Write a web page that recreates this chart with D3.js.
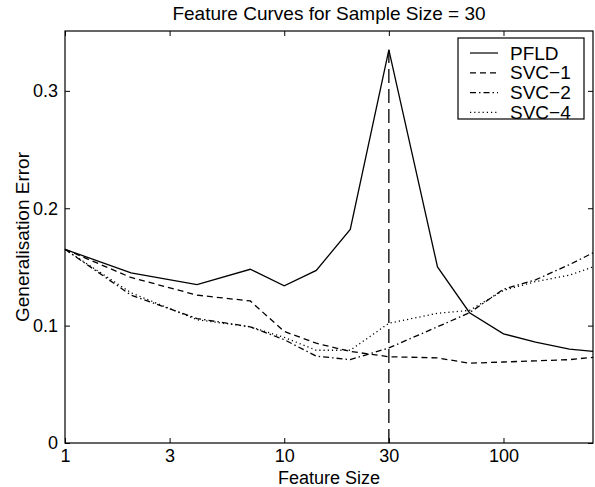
<!DOCTYPE html>
<html>
<head>
<meta charset="utf-8">
<script src="https://cdn.jsdelivr.net/npm/d3@7"></script>
<style>
  body { margin: 0; background: #fff; }
  svg { font-family: "Liberation Sans", Arial, sans-serif; }
</style>
</head>
<body>
<div id="chart"></div>
<script>
const width = 595, height = 487;
const margin = {top: 31, right: 2, bottom: 44, left: 65};

// feature sizes (x) and error values
const featureSize = [1, 2, 4, 7, 10, 14, 20, 30, 50, 70, 100, 140, 200, 256];
const pfld = [0.165, 0.145, 0.135, 0.148, 0.134, 0.147, 0.182, 0.335, 0.150, 0.111, 0.093, 0.086, 0.080, 0.078];
const svc1 = [0.165, 0.141, 0.126, 0.121, 0.095, 0.085, 0.078, 0.0735, 0.0725, 0.068, 0.069, 0.070, 0.071, 0.073];
const svc2 = [0.165, 0.126, 0.106, 0.099, 0.088, 0.074, 0.071, 0.081, 0.099, 0.111, 0.131, 0.139, 0.152, 0.162];
const svc4 = [0.165, 0.128, 0.105, 0.099, 0.090, 0.079, 0.079, 0.102, 0.1105, 0.113, 0.130, 0.1375, 0.143, 0.150];
const seriesNames = ["PFLD", "SVC\u22121", "SVC\u22122", "SVC\u22124"];
const xTicks = [1, 3, 10, 30, 100];
const yTicks = [0, 0.1, 0.2, 0.3];
const sampleSize = 30;

const dashes = [null, "6,4", "6,3,1.5,3", "1.2,3"];
const seriesValues = [pfld, svc1, svc2, svc4];

const svg = d3.select("#chart").append("svg")
  .attr("width", width)
  .attr("height", height);

const x = d3.scaleLog()
  .domain([1, 256])
  .range([margin.left, width - margin.right]);

const y = d3.scaleLinear()
  .domain([0, 0.351])
  .range([height - margin.bottom, margin.top]);

const fmt = d => d === 0 ? "0" : d3.format(".1f")(d);

// axes with inward ticks, box style
svg.append("g")
  .attr("transform", `translate(0,${height - margin.bottom})`)
  .call(d3.axisBottom(x).tickValues(xTicks).tickFormat(d3.format("d")).tickSizeInner(-5).tickSizeOuter(0).tickPadding(6))
  .call(g => g.select(".domain").remove())
  .selectAll("text").attr("font-size", "18px").attr("fill", "#000");

svg.append("g")
  .attr("transform", `translate(0,${margin.top})`)
  .call(d3.axisTop(x).tickValues(xTicks).tickFormat("").tickSizeInner(-5).tickSizeOuter(0))
  .call(g => g.select(".domain").remove());

svg.append("g")
  .attr("transform", `translate(${margin.left},0)`)
  .call(d3.axisLeft(y).tickValues(yTicks).tickFormat(fmt).tickSizeInner(-5).tickSizeOuter(0).tickPadding(7))
  .call(g => g.select(".domain").remove())
  .selectAll("text").attr("font-size", "18px").attr("fill", "#000");

svg.append("g")
  .attr("transform", `translate(${width - margin.right},0)`)
  .call(d3.axisRight(y).tickValues(yTicks).tickFormat("").tickSizeInner(-5).tickSizeOuter(0))
  .call(g => g.select(".domain").remove());

svg.selectAll(".tick line").attr("stroke", "#000");

svg.append("rect")
  .attr("x", margin.left)
  .attr("y", margin.top)
  .attr("width", width - margin.left - margin.right)
  .attr("height", height - margin.top - margin.bottom)
  .attr("fill", "none")
  .attr("stroke", "#000")
  .attr("stroke-width", 1.2);

// vertical marker at sample size
svg.append("line")
  .attr("x1", x(sampleSize)).attr("x2", x(sampleSize))
  .attr("y1", y(0)).attr("y2", y(d3.max(pfld)))
  .attr("stroke", "#000")
  .attr("stroke-width", 1.3)
  .attr("stroke-dasharray", "14,6");

const line = d3.line()
  .x((d, i) => x(featureSize[i]))
  .y(d => y(d));

svg.append("g")
  .selectAll("path")
  .data(seriesValues)
  .join("path")
  .attr("d", d => line(d))
  .attr("fill", "none")
  .attr("stroke", "#000")
  .attr("stroke-width", 1.3)
  .attr("stroke-dasharray", (d, i) => dashes[i]);

// legend
const legend = svg.append("g");
legend.append("rect")
  .attr("x", 458).attr("y", 38)
  .attr("width", 126).attr("height", 81)
  .attr("fill", "#fff")
  .attr("stroke", "#000")
  .attr("stroke-width", 1.2);

const rows = legend.selectAll("g")
  .data(seriesNames)
  .join("g")
  .attr("transform", (d, i) => `translate(0,${53 + i * 19.8})`);

rows.append("line")
  .attr("x1", 470).attr("x2", 498)
  .attr("stroke", "#000")
  .attr("stroke-width", 1.2)
  .attr("stroke-dasharray", (d, i) => dashes[i]);

rows.append("text")
  .attr("x", 510)
  .attr("dy", "0.35em")
  .attr("font-size", "19px")
  .text(d => d);

// title and axis labels
svg.append("text")
  .attr("x", (margin.left + width - margin.right) / 2)
  .attr("y", 20)
  .attr("text-anchor", "middle")
  .style("font-size", "19px")
  .text("Feature Curves for Sample Size = 30");

svg.append("text")
  .attr("x", (margin.left + width - margin.right) / 2)
  .attr("y", 484)
  .attr("text-anchor", "middle")
  .style("font-size", "18px")
  .text("Feature Size");

svg.append("text")
  .attr("transform", `translate(29,${(margin.top + height - margin.bottom) / 2}) rotate(-90)`)
  .attr("text-anchor", "middle")
  .style("font-size", "19px")
  .text("Generalisation Error");
</script>
</body>
</html>
